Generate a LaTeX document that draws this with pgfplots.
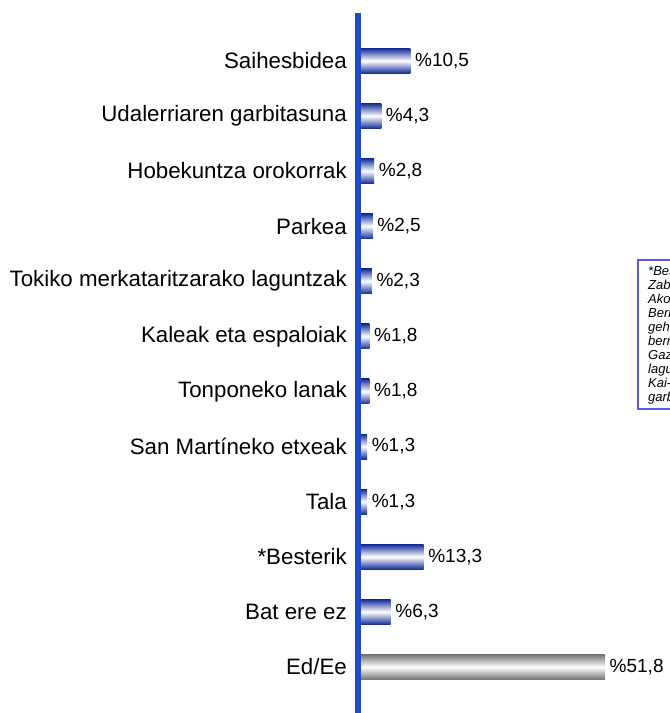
\documentclass[border=0pt]{standalone}
\usepackage{pgfplots}
\pgfplotsset{compat=1.18}
\usepackage{fontspec}
\setmainfont{Liberation Sans}
\definecolor{axisblue}{RGB}{30,75,200}
\definecolor{barblue}{RGB}{18,45,150}
\definecolor{bargray}{RGB}{115,115,115}
\definecolor{boxblue}{RGB}{90,90,230}
\pgfplotsset{
  bluebar/.style={draw=none, top color=barblue, bottom color=barblue, middle color=white},
  graybar/.style={draw=none, top color=bargray, bottom color=bargray, middle color=white},
}
\begin{document}
\begin{tikzpicture}
\useasboundingbox (0,0) rectangle (670bp,713bp);
\clip (0,0) rectangle (670bp,713bp);
\begin{axis}[
 at={(358bp,0bp)}, anchor=south west,
 scale only axis, width=312bp, height=700bp,
 xmin=-0.637, xmax=65.6, ymin=-0.867, ymax=11.835,
 y dir=reverse,
 axis x line=none,
 axis y line*=left,
 y axis line style={line width=6bp, draw=axisblue, -},
 ytick={0,...,11},
 yticklabels={Saihesbidea, Udalerriaren garbitasuna, Hobekuntza orokorrak, Parkea, Tokiko merkataritzarako laguntzak, Kaleak eta espaloiak, Tonponeko lanak, San Martíneko etxeak, Tala, *Besterik, Bat ere ez, Ed/Ee},
 yticklabel style={font=\fontsize{22.3bp}{24bp}\selectfont, anchor=east, inner sep=0pt, xshift=-11bp},
 major tick length=0pt,
 xbar, bar width=25bp, bar shift=0pt,
 point meta=x,
 /pgf/number format/assume math mode=true,
 nodes near coords={\%\pgfmathprintnumber[fixed, fixed zerofill, precision=1, use comma, assume math mode=true]{\pgfplotspointmeta}},
 nodes near coords style={font=\fontsize{19bp}{21bp}\selectfont, anchor=west, inner sep=0pt, xshift=4.5bp},
 clip=false,
]
\addplot[bluebar] coordinates {(10.5,0)};
\addplot[bluebar] coordinates {(4.3,1)};
\addplot[bluebar] coordinates {(2.8,2)};
\addplot[bluebar] coordinates {(2.5,3)};
\addplot[bluebar] coordinates {(2.3,4)};
\addplot[bluebar] coordinates {(1.8,5)};
\addplot[bluebar] coordinates {(1.8,6)};
\addplot[bluebar] coordinates {(1.3,7)};
\addplot[bluebar] coordinates {(1.3,8)};
\addplot[bluebar] coordinates {(13.3,9)};
\addplot[bluebar] coordinates {(6.3,10)};
\addplot[graybar] coordinates {(51.8,11)};
\end{axis}
\draw[boxblue, line width=1.2bp] (690bp,304bp) -- (638bp,304bp) -- (638bp,453bp) -- (690bp,453bp);
\foreach \t [count=\i from 0] in {{*Besterik:}, {Zabalguneko plaza,}, {Akordioak,}, {Berrikuntzak,}, {gehiago}, {berriztatzea,}, {Gazteentzako}, {laguntzak,}, {Kai-bidea,}, {garbiketa}}
  \node[anchor=base west, inner sep=0pt, font=\itshape\fontsize{13bp}{14bp}\selectfont] at (648bp, {437bp-14bp*\i}) {\t};
\end{tikzpicture}
\end{document}
